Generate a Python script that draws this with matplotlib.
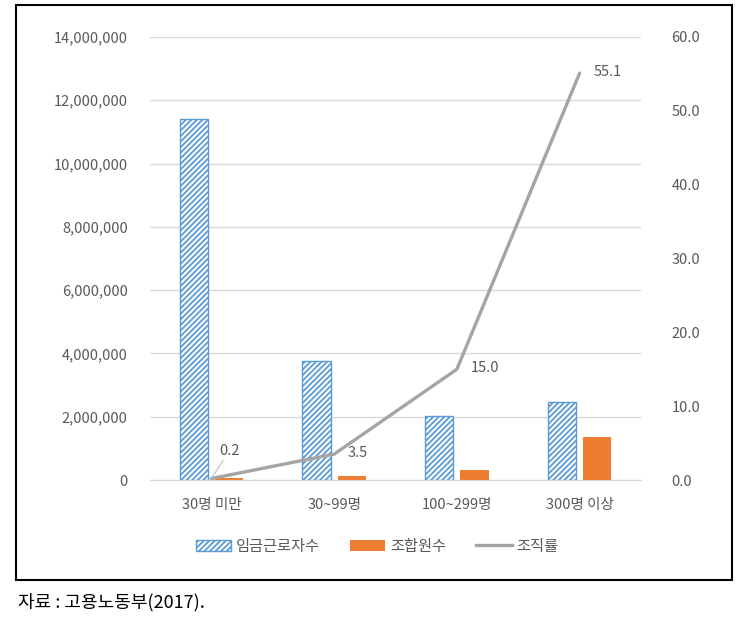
import numpy as np
import matplotlib
matplotlib.use('Agg')
import matplotlib.pyplot as plt
from matplotlib.patches import Rectangle, Patch
from matplotlib.lines import Line2D

plt.rcParams['font.family'] = ['Noto Sans CJK KR', 'DejaVu Sans']
plt.rcParams['hatch.linewidth'] = 1.3

# data
categories = ['30명 미만', '30~99명', '100~299명', '300명 이상']
workers = [11420000, 3760000, 2020000, 2460000]       # 임금근로자수
members = [50000, 140000, 310000, 1370000]            # 조합원수
rate = [0.2, 3.5, 15.0, 55.1]                         # 조직률 (%)
left_ticks = np.arange(0, 14000001, 2000000)
right_ticks = np.arange(0, 61, 10)

BLUE = '#5B9BD5'
ORANGE = '#ED7D31'
GRAY = '#A5A5A5'
TXT = '#595959'

W, H = 745, 628
fig = plt.figure(figsize=(W / 100, H / 100), dpi=100)

# axes placed in pixel coords of the reference
x0, x1, ytop, ybot = 150, 641, 37, 480
ax = fig.add_axes([x0 / W, 1 - ybot / H, (x1 - x0) / W, (ybot - ytop) / H])
ax2 = ax.twinx()

x = np.arange(len(categories))
bw = 0.23
off = 0.144
ax.bar(x - off, workers, bw, facecolor='white', edgecolor=BLUE, hatch='//////', linewidth=1.0, zorder=2)
ax.bar(x + off, members, bw, color=ORANGE, zorder=2)

ax.set_xlim(-0.5, len(categories) - 0.5)
ax.set_ylim(0, 14000000)
ax.set_yticks(left_ticks)
ax.set_yticklabels([f'{v:,.0f}' for v in left_ticks])
ax.set_xticks(x)
ax.set_xticklabels(categories)
ax.grid(axis='y', color='#D9D9D9', linewidth=1.0, zorder=0)
ax.set_axisbelow(True)

for a in (ax, ax2):
    for s in a.spines.values():
        s.set_visible(False)
    a.tick_params(length=0, colors=TXT, labelsize=10.5)
ax.spines['bottom'].set_visible(True)
ax.spines['bottom'].set_color('#D9D9D9')
ax.tick_params(axis='y', pad=16)
ax.tick_params(axis='x', pad=13)

ax2.plot(x, rate, color=GRAY, linewidth=2.4, solid_capstyle='round', zorder=3)
ax2.set_ylim(0, 60)
ax2.set_yticks(right_ticks)
ax2.set_yticklabels([f'{v:.1f}' for v in right_ticks])
ax2.tick_params(axis='y', pad=22)

# data labels on the line
ax2.annotate(f'{rate[0]:.1f}', xy=(x[0], rate[0]), xytext=(13, 15), textcoords='offset points',
             fontsize=10.5, color=TXT, ha='center', va='bottom',
             arrowprops=dict(arrowstyle='-', color='#BFBFBF', lw=0.8, shrinkA=0, shrinkB=0))
for i in range(1, len(rate)):
    ax2.annotate(f'{rate[i]:.1f}', xy=(x[i], rate[i]), xytext=(10, 1), textcoords='offset points',
                 fontsize=10.5, color=TXT, ha='left', va='center')

handles = [Patch(facecolor='white', edgecolor=BLUE, hatch='//////', linewidth=1.0),
           Patch(facecolor=ORANGE),
           Line2D([0], [0], color=GRAY, linewidth=2.4)]
fig.legend(handles, ['임금근로자수', '조합원수', '조직률'], loc='center', ncol=3,
           bbox_to_anchor=(377 / W, 1 - 546 / H), frameon=False, fontsize=11,
           labelcolor=TXT, handlelength=2.3, handletextpad=0.3, columnspacing=2.0)

# border around the chart
fig.patches.append(Rectangle((16 / W, 1 - 580 / H), (732 - 16) / W, (580 - 5) / H,
                             transform=fig.transFigure, fill=False, edgecolor='black', linewidth=1.5))

fig.text(18 / W, 1 - 602 / H, '자료 : 고용노동부(2017).', fontsize=13, color='black', va='center', ha='left')

fig.savefig('out.png', dpi=100)
